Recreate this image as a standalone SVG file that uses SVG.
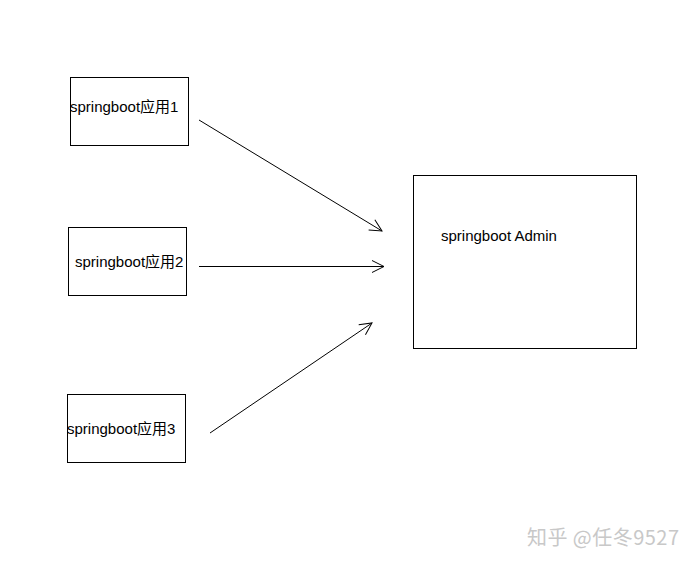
<svg xmlns="http://www.w3.org/2000/svg" width="696" height="564" viewBox="0 0 696 564">
<defs>
<style>
.box{fill:#fff;stroke:#000;stroke-width:1}
.lbl{font-family:"Liberation Sans","Noto Sans CJK SC",sans-serif;font-size:15px;fill:#000}
.conn line{stroke:#000;stroke-width:1;fill:none}
.wm{font-family:"Noto Sans CJK SC","Liberation Sans",sans-serif;font-size:20px;fill:#c8c8c8}
</style>
<marker id="arr" markerWidth="14" markerHeight="14" refX="13" refY="7" orient="auto" markerUnits="userSpaceOnUse">
<path d="M1,1 L13,7 L1,13" fill="none" stroke="#000" stroke-width="1"/>
</marker>
</defs>
<rect width="696" height="564" fill="#fff"/>
<g id="app1"><rect class="box" x="70.5" y="77.5" width="118" height="68"/><text class="lbl" x="70" y="112">springboot应用1</text></g>
<g id="app2"><rect class="box" x="68.5" y="227.5" width="118" height="68"/><text class="lbl" x="75" y="267">springboot应用2</text></g>
<g id="app3"><rect class="box" x="67.5" y="394.5" width="118" height="68"/><text class="lbl" x="67" y="434">springboot应用3</text></g>
<g id="admin"><rect class="box" x="413.5" y="175.5" width="223" height="173"/><text class="lbl" x="441" y="241">springboot Admin</text></g>
<g class="conn">
<line x1="199" y1="120" x2="382" y2="231" marker-end="url(#arr)"/>
<line x1="199" y1="266.5" x2="384" y2="266.5" marker-end="url(#arr)"/>
<line x1="210" y1="433" x2="372" y2="323" marker-end="url(#arr)"/>
</g>
<text class="wm" x="527" y="545" textLength="152" lengthAdjust="spacing">知乎 @任冬9527</text>
</svg>
